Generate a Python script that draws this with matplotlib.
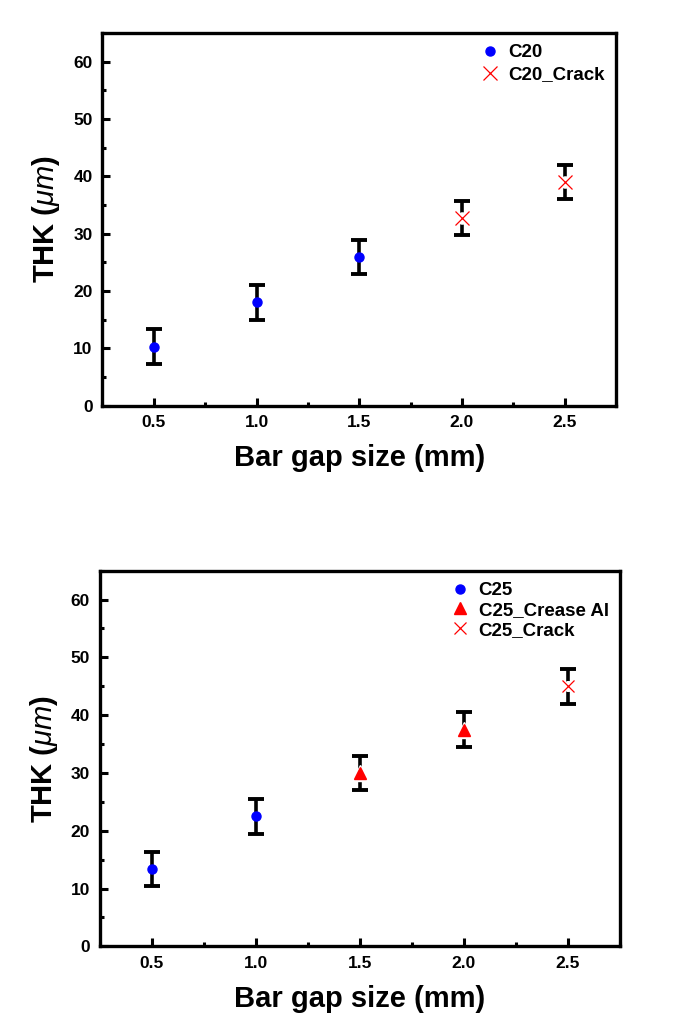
import matplotlib
matplotlib.use("Agg")
import matplotlib.pyplot as plt
from matplotlib.ticker import MultipleLocator

plt.rcParams['font.family'] = ['Liberation Sans', 'DejaVu Sans']
plt.rcParams['font.weight'] = 'bold'
plt.rcParams['mathtext.fontset'] = 'custom'
plt.rcParams['mathtext.it'] = 'Liberation Sans:italic:normal'
plt.rcParams['mathtext.rm'] = 'Liberation Sans:normal'

# top panel (C20)
c20_x = [0.5, 1.0, 1.5]
c20_y = [10.3, 18.0, 25.9]
c20_err = [3.0, 3.0, 3.0]
c20_crack_x = [2.0, 2.5]
c20_crack_y = [32.7, 39.0]
c20_crack_err = [3.0, 3.0]

# bottom panel (C25)
c25_x = [0.5, 1.0]
c25_y = [13.4, 22.5]
c25_err = [3.0, 3.0]
c25_crease_x = [1.5, 2.0]
c25_crease_y = [30.0, 37.5]
c25_crease_err = [3.0, 3.0]
c25_crack_x = [2.5]
c25_crack_y = [45.0]
c25_crack_err = [3.0]

xticks = [0.5, 1.0, 1.5, 2.0, 2.5]
yticks = [0, 10, 20, 30, 40, 50, 60]

fig = plt.figure(figsize=(6.74, 10.32), dpi=100)
ax1 = fig.add_axes([0.152, 0.607, 0.762, 0.361])
ax2 = fig.add_axes([0.148, 0.083, 0.772, 0.364])


def err(ax, x, y, e):
    ax.errorbar(x, y, yerr=e, fmt='none', ecolor='black', elinewidth=2.6,
                capsize=5.5, capthick=2.8, zorder=2)


def style(ax):
    ax.set_xlim(0.25, 2.75)
    ax.set_ylim(0, 65)
    ax.set_xticks(xticks)
    ax.set_xticklabels(['%.1f' % t for t in xticks])
    ax.set_yticks(yticks)
    ax.xaxis.set_minor_locator(MultipleLocator(0.25))
    ax.yaxis.set_minor_locator(MultipleLocator(5))
    ax.tick_params(which='both', direction='in', top=False, right=False,
                   width=2.2, labelsize=12.5, pad=7)
    ax.tick_params(which='major', length=6)
    ax.tick_params(which='minor', length=3)
    for s in ax.spines.values():
        s.set_linewidth(2.4)
    for lab in ax.get_xticklabels() + ax.get_yticklabels():
        lab.set_fontweight('bold')
    ax.set_xlabel('Bar gap size (mm)', fontsize=21, fontweight='bold', labelpad=10)
    ax.set_ylabel(r'THK ($\mathit{\mu m}$)', fontsize=21, fontweight='bold', labelpad=8)


# top
err(ax1, c20_x, c20_y, c20_err)
err(ax1, c20_crack_x, c20_crack_y, c20_crack_err)
ax1.plot(c20_x, c20_y, 'o', color='blue', ms=6.5, mec='blue', zorder=3, label='C20')
ax1.plot(c20_crack_x, c20_crack_y, 'o', color='white', ms=8, mec='white', zorder=3)
ax1.plot(c20_crack_x, c20_crack_y, 'x', color='red', ms=10, mew=0.9, zorder=4,
         label='C20_Crack')
style(ax1)
ax1.legend(loc='upper right', frameon=False, handlelength=1.0,
           handletextpad=0.5, labelspacing=0.25, borderaxespad=0.2,
           prop={'weight': 'bold', 'size': 13.5})

# bottom
err(ax2, c25_x, c25_y, c25_err)
err(ax2, c25_crease_x, c25_crease_y, c25_crease_err)
err(ax2, c25_crack_x, c25_crack_y, c25_crack_err)
ax2.plot(c25_x, c25_y, 'o', color='blue', ms=6.5, mec='blue', zorder=3, label='C25')
ax2.plot(c25_crease_x, c25_crease_y, '^', color='white', ms=11, mec='white', zorder=3)
ax2.plot(c25_crease_x, c25_crease_y, '^', color='red', ms=8, mec='red', zorder=4,
         label='C25_Crease Al')
ax2.plot(c25_crack_x, c25_crack_y, 'o', color='white', ms=7, mec='white', zorder=3)
ax2.plot(c25_crack_x, c25_crack_y, 'x', color='red', ms=9, mew=0.9, zorder=4,
         label='C25_Crack')
style(ax2)
ax2.legend(loc='upper right', frameon=False, handlelength=1.0,
           handletextpad=0.5, labelspacing=0.15, borderaxespad=0.2,
           prop={'weight': 'bold', 'size': 13.5})

fig.savefig('out.png', dpi=100)
